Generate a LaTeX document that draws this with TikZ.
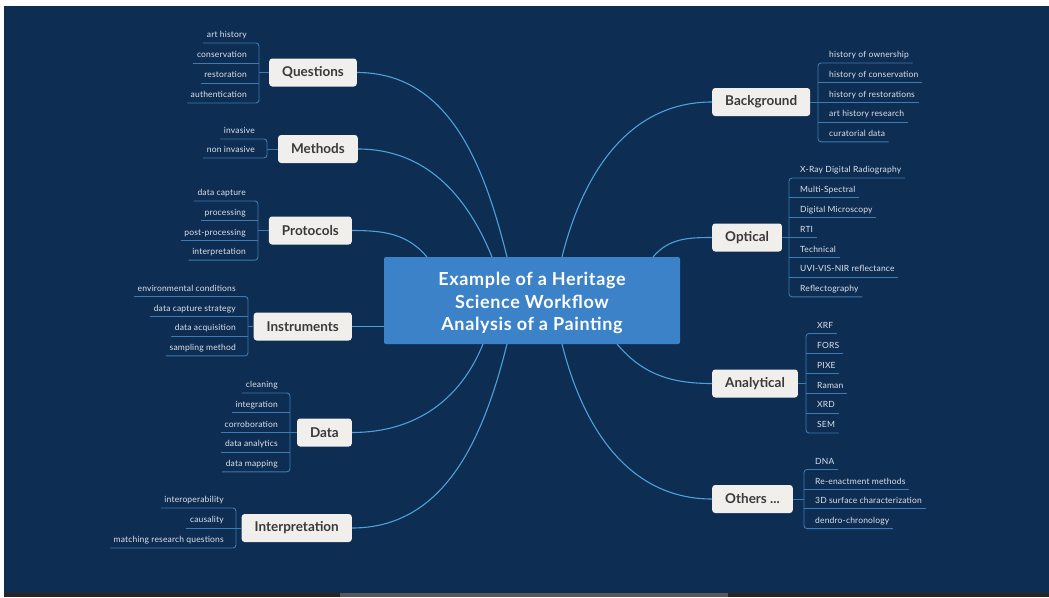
\documentclass[tikz,border=0pt]{standalone}
\usepackage{fontspec}
\setmainfont{Lato}
\newfontfamily\titlefont[LetterSpace=3.5]{Lato}
\newfontfamily\itemfont[LetterSpace=2]{Lato}
\usetikzlibrary{calc}

\definecolor{navy}{HTML}{0E2D52}
\definecolor{linkblue}{HTML}{4FA0DA}
\definecolor{subblue}{HTML}{3C7CB4}
\definecolor{subtext}{HTML}{DCE3EB}
\definecolor{boxfill}{HTML}{F1EFEC}
\definecolor{boxtext}{HTML}{3A3A3A}
\definecolor{centerblue}{HTML}{3B82C8}
\definecolor{bardark}{HTML}{2A2421}
\definecolor{bargrey}{HTML}{5A5856}

% One group of sub-topics hanging off a bracket:
% #1 item style, #2 bracket side of the items, #3 free side of the items,
% #4 name prefix, #5 parent node, #6 bracket x, #7 first underline y,
% #8 spacing, #9 item texts
\newcommand\subbranch[9]{%
  \foreach \t [count=\i] in {#9}{%
    \node[#1] (#4\i) at (#6,{-(#7)-(#8)*(\i-1)}) {\t};
    \xdef\nsub{\i}%
  }%
  \draw[subline, rounded corners=3pt] (#41.south #3) -- (#41.south #2)
    -- (#4\nsub.south #2) -- (#4\nsub.south #3);
  \foreach \i in {1,...,\nsub}{%
    \ifnum\i>1\relax\ifnum\i<\nsub\relax
      \draw[subline] (#4\i.south #3) -- (#4\i.south #2);
    \fi\fi
  }%
  \draw[subline] (#5.#3) -- (#5.#3 -| #41.south #2);
}

\tikzset{
  mainbox/.style={fill=boxfill, text=boxtext, rounded corners=3pt,
    font=\bfseries\fontsize{13.5}{16}\selectfont, minimum height=28pt,
    inner xsep=13pt, inner ysep=0pt},
  centerbox/.style={fill=centerblue, rounded corners=2pt,
    minimum width=296pt, minimum height=87pt, inner sep=0pt},
  centertext/.style={text=white, align=center, inner sep=0pt,
    font=\titlefont\bfseries\fontsize{18}{22.5}\selectfont},
  subbase/.style={font=\itemfont\fontsize{8.5}{10}\selectfont, text=subtext,
    inner xsep=0pt, inner ysep=0pt, text height=6.5pt, text depth=5pt},
  lsub/.style={subbase, anchor=south east,
    execute at begin node=\hspace*{3.5pt}, execute at end node=\hspace*{12pt}},
  rsub/.style={subbase, anchor=south west,
    execute at begin node=\hspace*{11pt}, execute at end node=\hspace*{3.5pt}},
  link/.style={draw=linkblue, line width=1.1pt},
  subline/.style={draw=subblue, line width=0.9pt},
}

\begin{document}
\begin{tikzpicture}[x=1pt,y=1pt]
\useasboundingbox (0,0) rectangle (1049,-597);
% frame, backdrop and bottom bar
\fill[white] (0,0) rectangle (1049,-597);
\fill[navy] (4,-6) rectangle (1049,-593);
\fill[bardark] (4,-593) rectangle (1049,-597);
\fill[bargrey] (340,-593) rectangle (728,-597);

% central topic
\node[centerbox] (center) at (532,-300.5) {};
\node[centertext] (title) at (532,-303)
  {Example of a Heritage\\Science Workflow\\Analysis of a Painting};

% main topics, left
\node[mainbox, anchor=east] (Questions) at (357,-72.5) {Questions};
\node[mainbox, anchor=east] (Methods) at (358,-149) {Methods};
\node[mainbox, anchor=east] (Protocols) at (352,-230.5) {Protocols};
\node[mainbox, anchor=east] (Instruments) at (352,-326.5) {Instruments};
\node[mainbox, anchor=east] (Data) at (352,-432.5) {Data};
\node[mainbox, anchor=east] (Interpretation) at (352,-528) {Interpretation};
% main topics, right
\node[mainbox, anchor=west] (Background) at (712,-102) {Background};
\node[mainbox, anchor=west] (Optical) at (712,-237.5) {Optical};
\node[mainbox, anchor=west] (Analytical) at (712,-383.5) {Analytical};
\node[mainbox, anchor=west] (Others) at (712,-499) {Others ...};

% attachment points on the central topic
\coordinate (cQ) at (507,-257);
\coordinate (cM) at (492,-257);
\coordinate (cP) at (427,-257);
\coordinate (cD) at (483,-344);
\coordinate (cI) at (507,-344);
\coordinate (cB) at (562,-257);
\coordinate (cO) at (653,-257);
\coordinate (cA) at (617,-344);
\coordinate (cX) at (562,-344);

% branches from the central topic
\draw[link] (cQ) to[out=104,in=0] (Questions.east);
\draw[link] (cM) to[out=112,in=0] (Methods.east);
\draw[link] (cP) to[out=130,in=0] (Protocols.east);
\draw[link] (Instruments.east) -- (Instruments.east -| center.west);
\draw[link] (cD) to[out=248,in=0] (Data.east);
\draw[link] (cI) to[out=256,in=0] (Interpretation.east);
\draw[link] (cB) to[out=76,in=180] (Background.west);
\draw[link] (cO) to[out=50,in=180] (Optical.west);
\draw[link] (cA) to[out=310,in=180] (Analytical.west);
\draw[link] (cX) to[out=284,in=180] (Others.west);

% sub-topics, left
\subbranch{lsub}{east}{west}{q}{Questions}{259}{43}{20}
  {art history, conservation, restoration, authentication}
\subbranch{lsub}{east}{west}{m}{Methods}{267}{139}{19}
  {invasive, non invasive}
\subbranch{lsub}{east}{west}{p}{Protocols}{258}{201}{19.7}
  {data capture, processing, post-processing, interpretation}
\subbranch{lsub}{east}{west}{n}{Instruments}{248}{296.5}{19.8}
  {environmental conditions, data capture strategy, data acquisition, sampling method}
\subbranch{lsub}{east}{west}{d}{Data}{290}{393}{19.7}
  {cleaning, integration, corroboration, data analytics, data mapping}
\subbranch{lsub}{east}{west}{i}{Interpretation}{236}{508}{20}
  {interoperability, causality, matching research questions}
% sub-topics, right
\subbranch{rsub}{west}{east}{b}{Background}{818}{63}{19.7}
  {history of ownership, history of conservation, history of restorations, art history research, curatorial data}
\subbranch{rsub}{west}{east}{o}{Optical}{789}{178}{19.8}
  {X-Ray Digital Radiography, Multi-Spectral, Digital Microscopy, RTI, Technical, UVI-VIS-NIR reflectance, Reflectography}
\subbranch{rsub}{west}{east}{a}{Analytical}{806}{333.5}{19.9}
  {XRF, FORS, PIXE, Raman, XRD, SEM}
\subbranch{rsub}{west}{east}{x}{Others}{804}{469.5}{19.7}
  {DNA, Re-enactment methods, 3D surface characterization, dendro-chronology}
\end{tikzpicture}
\end{document}
